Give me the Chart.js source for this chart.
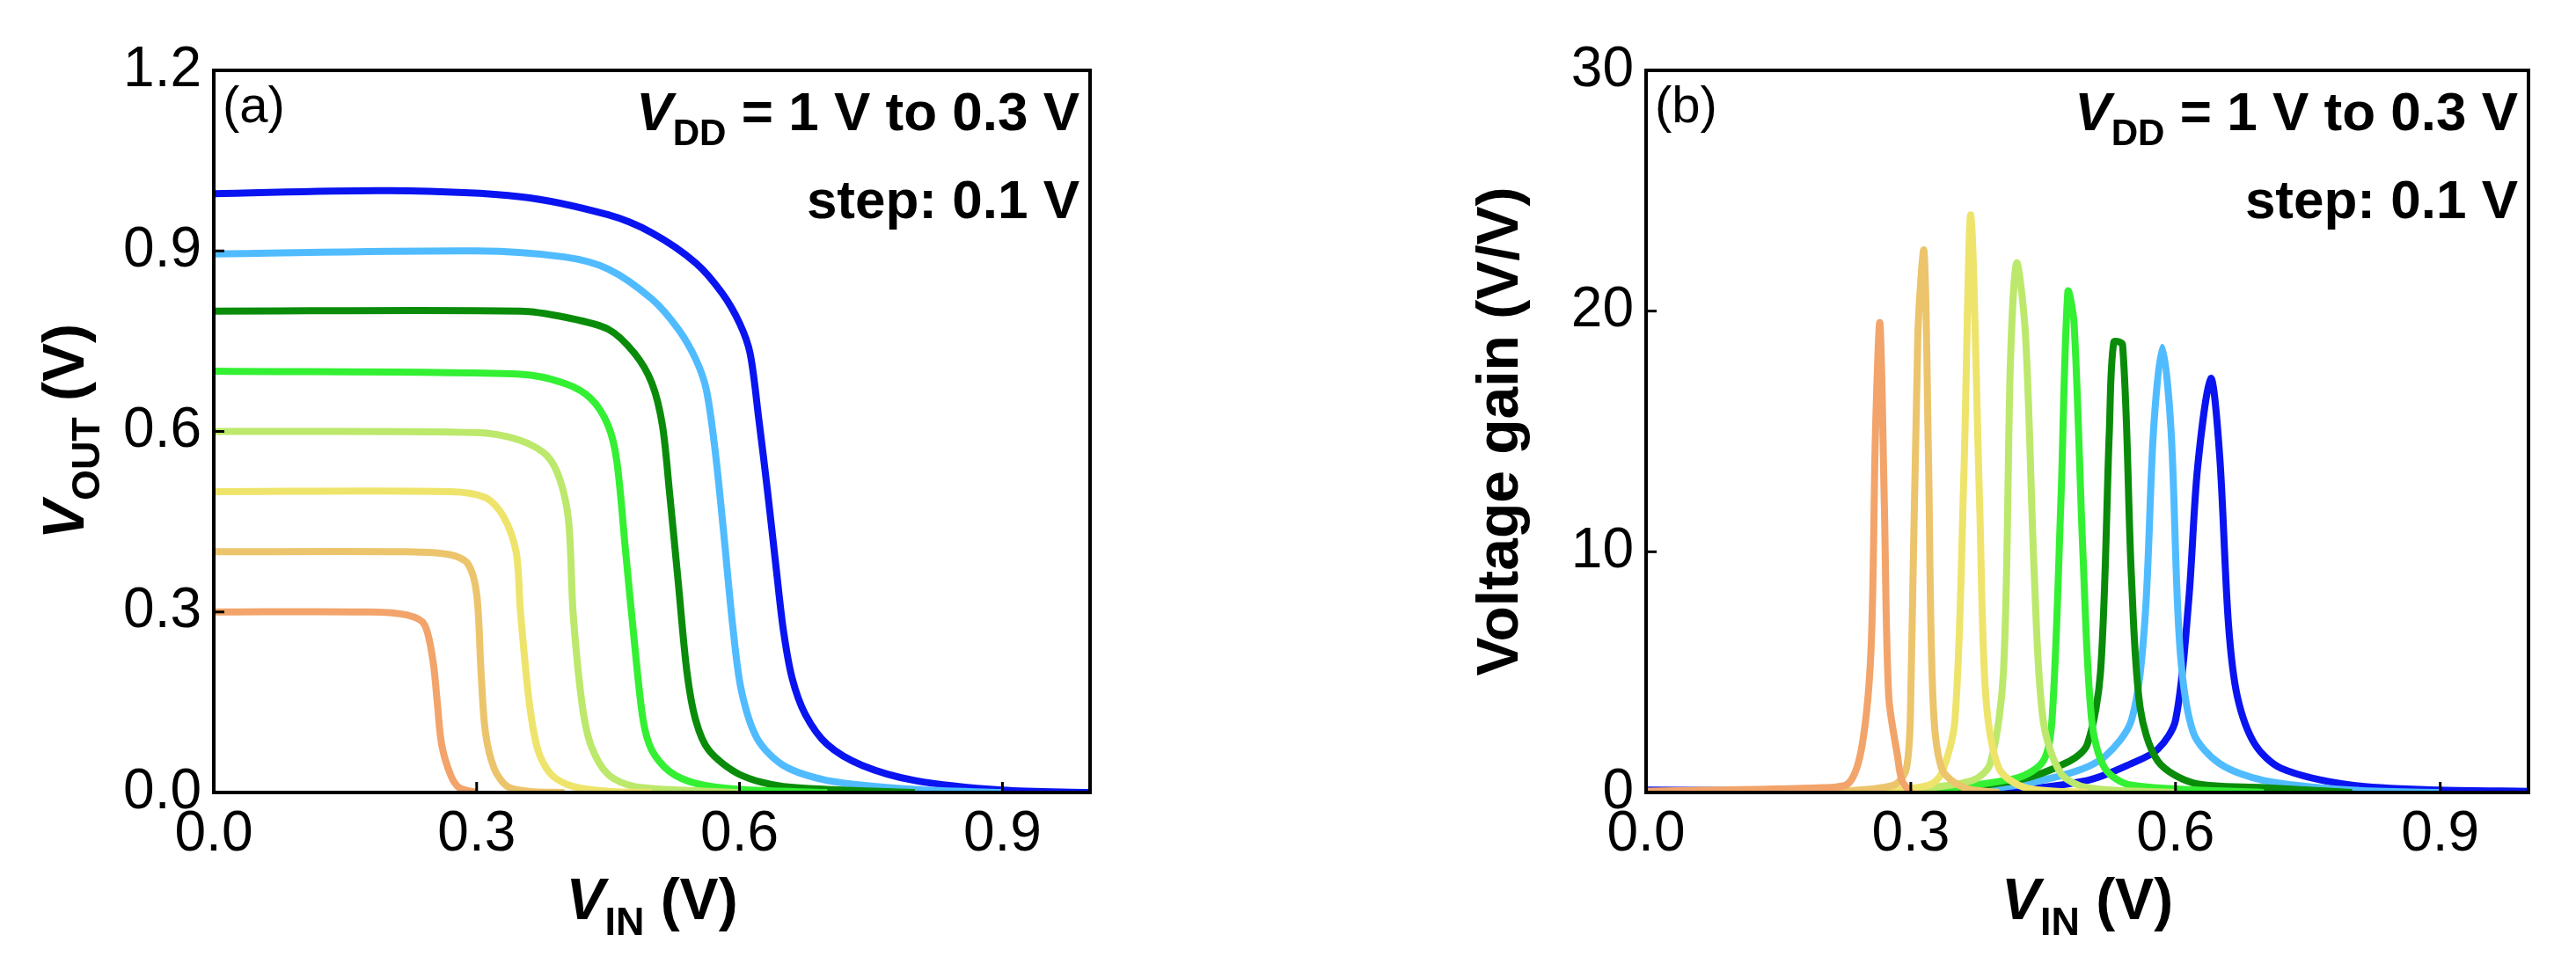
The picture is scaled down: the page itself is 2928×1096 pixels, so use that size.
<!DOCTYPE html>
<html>
<head>
<meta charset="utf-8">
<script src="https://cdn.jsdelivr.net/npm/chart.js@4"></script>
<style>
  body { margin: 0; background: #fff; width: 2928px; height: 1096px; position: relative; overflow: hidden; }
  .box { position: absolute; top: 0; height: 1096px; }
</style>
</head>
<body>
<div class="box" style="left:0;width:1262px"><canvas id="chartA"></canvas></div>
<div class="box" style="left:1600px;width:1300px"><canvas id="chartB"></canvas></div>
<script>
// Supply voltages and line colours
const vddLabels = ['1.0 V', '0.9 V', '0.8 V', '0.7 V', '0.6 V', '0.5 V', '0.4 V', '0.3 V'];
const colors = ['#0a14f0', '#50bcff', '#0a8c0a', '#33f033', '#bce86c', '#eee46c', '#ecc46c', '#f2a46a'];

// (a) transfer curves: [VIN, VOUT]
const vtc10 = [[0,0.995],[0.2,1.0],[0.35,0.99],[0.45,0.96],[0.5,0.93],[0.55,0.88],[0.58,0.83],[0.6,0.78],[0.612,0.73],[0.622,0.62],[0.632,0.5],[0.642,0.37],[0.65,0.27],[0.66,0.19],[0.675,0.13],[0.7,0.08],[0.74,0.045],[0.8,0.02],[0.9,0.004],[1,0.0]];
const vtc09 = [[0,0.895],[0.3,0.9],[0.4,0.89],[0.45,0.87],[0.5,0.82],[0.53,0.77],[0.55,0.72],[0.562,0.67],[0.572,0.57],[0.582,0.43],[0.592,0.28],[0.602,0.17],[0.62,0.09],[0.65,0.045],[0.7,0.02],[0.8,0.005],[0.9,0.0]];
const vtc08 = [[0,0.8],[0.35,0.8],[0.4,0.79],[0.45,0.77],[0.48,0.73],[0.5,0.68],[0.512,0.61],[0.52,0.5],[0.53,0.35],[0.54,0.2],[0.55,0.12],[0.565,0.07],[0.6,0.03],[0.65,0.01],[0.8,0.0]];
const vtc07 = [[0,0.7],[0.35,0.695],[0.4,0.68],[0.43,0.655],[0.45,0.61],[0.46,0.55],[0.47,0.4],[0.48,0.25],[0.49,0.12],[0.5,0.07],[0.52,0.035],[0.55,0.015],[0.6,0.005],[0.7,0.0]];
const vtc06 = [[0,0.6],[0.3,0.598],[0.35,0.585],[0.38,0.56],[0.395,0.52],[0.405,0.45],[0.41,0.3],[0.42,0.15],[0.43,0.08],[0.45,0.03],[0.48,0.01],[0.55,0.003],[0.6,0.0]];
const vtc05 = [[0,0.5],[0.27,0.5],[0.31,0.49],[0.33,0.46],[0.345,0.4],[0.35,0.3],[0.36,0.15],[0.37,0.07],[0.385,0.03],[0.41,0.01],[0.45,0.002],[0.5,0.0]];
const vtc04 = [[0,0.4],[0.22,0.4],[0.27,0.395],[0.29,0.38],[0.3,0.33],[0.305,0.2],[0.31,0.1],[0.32,0.04],[0.335,0.01],[0.36,0.002],[0.4,0.0]];
const vtc03 = [[0,0.3],[0.18,0.3],[0.22,0.295],[0.24,0.28],[0.25,0.22],[0.255,0.15],[0.26,0.08],[0.27,0.03],[0.28,0.008],[0.3,0.0]];

// (b) voltage gain: [VIN, gain]
const gain10 = [[0,0.1],[0.4,0.1],[0.5,0.5],[0.55,1.2],[0.58,1.8],[0.6,3],[0.615,8],[0.625,13.5],[0.64,17.2],[0.65,14],[0.66,7],[0.67,4],[0.69,2],[0.72,1],[0.8,0.3],[0.9,0.1],[1,0.05]];
const gain09 = [[0.3,0],[0.4,0.2],[0.48,0.8],[0.52,1.5],[0.55,3],[0.565,7],[0.575,15],[0.585,18.5],[0.595,15],[0.605,6],[0.62,2.5],[0.65,1.2],[0.7,0.5],[0.8,0.1],[0.9,0]];
const gain08 = [[0.3,0],[0.42,0.5],[0.48,1.3],[0.5,2],[0.515,5],[0.525,15],[0.53,18.7],[0.54,18.6],[0.55,9],[0.56,3.5],[0.58,1.3],[0.62,0.4],[0.7,0.2],[0.8,0]];
const gain07 = [[0.3,0],[0.42,0.6],[0.45,1.3],[0.46,3],[0.47,12],[0.478,20.8],[0.485,19.5],[0.495,10],[0.505,3],[0.52,1],[0.55,0.3],[0.7,0]];
const gain06 = [[0.3,0.1],[0.37,0.5],[0.39,1.2],[0.405,5],[0.413,18],[0.42,22],[0.43,19],[0.44,9],[0.45,3],[0.47,0.8],[0.5,0.2],[0.6,0]];
const gain05 = [[0.25,0],[0.32,0.3],[0.335,0.8],[0.35,3],[0.36,13],[0.368,24],[0.378,12],[0.385,4],[0.4,1],[0.43,0.2],[0.5,0]];
const gain04 = [[0.2,0],[0.28,0.3],[0.295,1],[0.3,4],[0.308,19],[0.315,22.5],[0.32,14],[0.325,4],[0.335,1],[0.36,0.2],[0.4,0]];
const gain03 = [[0,0.05],[0.2,0.2],[0.23,0.4],[0.245,2],[0.255,6],[0.26,15],[0.265,19.5],[0.27,12],[0.275,4],[0.285,1.5],[0.29,0.5],[0.3,0]];

const vtcSeries = [vtc10, vtc09, vtc08, vtc07, vtc06, vtc05, vtc04, vtc03];
const gainSeries = [gain10, gain09, gain08, gain07, gain06, gain05, gain04, gain03];

const xTicks = [0, 0.3, 0.6, 0.9];
const yTicksA = [0, 0.3, 0.6, 0.9, 1.2];
const yTicksB = [0, 10, 20, 30];

const FONT = '"Liberation Sans", Arial, sans-serif';

function makeDatasets(series) {
    return series.map((pts, i) => ({
        label: vddLabels[i],
        data: pts.map(p => ({ x: p[0], y: p[1] })),
        borderColor: colors[i],
        borderWidth: 8,
        pointRadius: 0,
        tension: 0.3,
        fill: false
    })).reverse();
}

// Draw text with a subscript, e.g. V_OUT
function subText(ctx, parts, x, y, size, align, weight) {
    const w = weight || 'bold ';
    const fontOf = p => (p[1] === 'i' ? 'italic ' : '') + w + (p[1] === 's' ? size * 0.68 : size) + 'px ' + FONT;
    let widths = parts.map(p => { ctx.font = fontOf(p); return ctx.measureText(p[0]).width; });
    let total = widths.reduce((a, b) => a + b, 0);
    let cx = align === 'right' ? x - total : (align === 'center' ? x - total / 2 : x);
    parts.forEach((p, k) => {
        ctx.font = fontOf(p);
        ctx.textAlign = 'left';
        ctx.textBaseline = 'alphabetic';
        ctx.fillText(p[0], cx, p[1] === 's' ? y + size * 0.28 : y);
        cx += widths[k];
    });
}

function decorPlugin(panel, yTitle) {
    return {
        id: 'decor' + panel,
        afterDraw(chart) {
            const ctx = chart.ctx;
            const a = chart.chartArea;
            const xs = chart.scales.x, ys = chart.scales.y;
            ctx.save();
            ctx.fillStyle = '#000';
            ctx.strokeStyle = '#000';
            // frame
            ctx.lineWidth = 4;
            ctx.strokeRect(a.left, a.top, a.right - a.left, a.bottom - a.top);
            // inner ticks
            ctx.lineWidth = 3;
            xTicks.forEach(v => {
                const px = xs.getPixelForValue(v);
                ctx.beginPath(); ctx.moveTo(px, a.bottom); ctx.lineTo(px, a.bottom - 12); ctx.stroke();
            });
            (panel === 'a' ? yTicksA : yTicksB).forEach(v => {
                const py = ys.getPixelForValue(v);
                ctx.beginPath(); ctx.moveTo(a.left, py); ctx.lineTo(a.left + 12, py); ctx.stroke();
            });
            // panel label
            ctx.font = '58px ' + FONT;
            ctx.textAlign = 'left';
            ctx.textBaseline = 'top';
            ctx.fillText('(' + panel + ')', a.left + 10, a.top + 14);
            // annotation
            subText(ctx, [['V', 'i'], ['DD', 's'], [' = 1 V to 0.3 V', 'n']], a.right - 12, a.top + 68, 62, 'right');
            subText(ctx, [['step: 0.1 V', 'n']], a.right - 12, a.top + 168, 62, 'right');
            // x title
            subText(ctx, [['V', 'i'], ['IN', 's'], [' (V)', 'n']], (a.left + a.right) / 2, 1045, 66, 'center');
            // y title
            ctx.translate(panel === 'a' ? 95 : 125, (a.top + a.bottom) / 2);
            ctx.rotate(-Math.PI / 2);
            subText(ctx, yTitle, 0, 0, 66, 'center');
            ctx.restore();
        }
    };
}

function makeChart(id, series, yMax, yStep, yWidth, rightPad, panel, yTitle, yFmt) {
    return new Chart(document.getElementById(id), {
        type: 'line',
        data: { datasets: makeDatasets(series) },
        options: {
            responsive: true,
            maintainAspectRatio: false,
            animation: false,
            layout: { padding: { top: 80, right: rightPad, left: 0, bottom: 0 } },
            plugins: { legend: { display: false }, tooltip: { enabled: false } },
            scales: {
                x: {
                    type: 'linear', min: 0, max: 1,
                    grid: { display: false },
                    border: { display: false },
                    ticks: {
                        stepSize: 0.3, color: '#000', padding: 2,
                        font: { family: FONT, size: 64 },
                        callback: v => (Math.abs(v - 1) < 1e-6 ? '' : v.toFixed(1))
                    },
                    afterFit: s => { s.height = 195; }
                },
                y: {
                    type: 'linear', min: 0, max: yMax,
                    grid: { display: false },
                    border: { display: false },
                    ticks: {
                        stepSize: yStep, color: '#000', padding: 6,
                        font: { family: FONT, size: 64 },
                        callback: yFmt
                    },
                    afterFit: s => { s.width = yWidth; }
                }
            }
        },
        plugins: [decorPlugin(panel, yTitle)]
    });
}

makeChart('chartA', vtcSeries, 1.2, 0.3, 243, 23, 'a',
    [['V', 'i'], ['OUT', 's'], [' (V)', 'n']], v => v.toFixed(1));
makeChart('chartB', gainSeries, 30, 10, 271, 26, 'b',
    [['Voltage gain (V/V)', 'n']], v => v.toFixed(0));
</script>
</body>
</html>
